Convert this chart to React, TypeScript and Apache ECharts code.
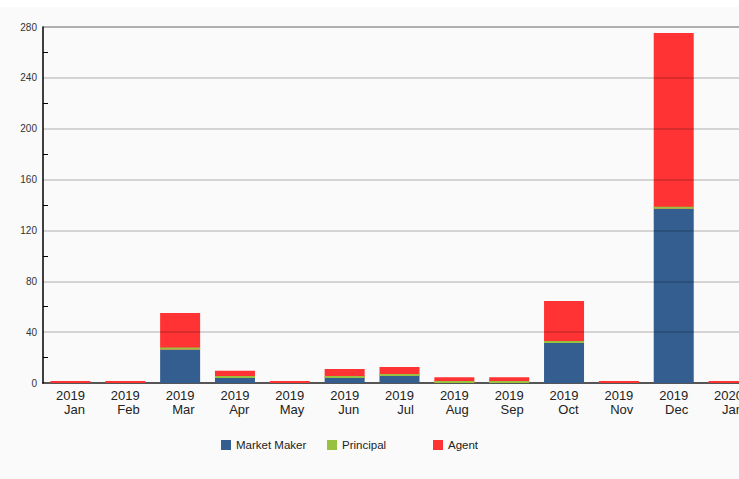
import React, { useEffect, useRef } from "react";
import * as echarts from "echarts";

const categories = [
  "2019 Jan", "2019 Feb", "2019 Mar", "2019 Apr", "2019 May", "2019 Jun", "2019 Jul",
  "2019 Aug", "2019 Sep", "2019 Oct", "2019 Nov", "2019 Dec", "2020 Jan",
];
const marketMaker = [0, 0, 26.3, 4, 0, 4, 5.5, 0, 0, 31.5, 0, 137, 0];
const principal = [null, null, 0, 0, null, 0, 0, 0, 0, 0, null, 0, null];
const agent = [0, 0, 28.7, 5.7, 0, 7, 7.1, 4.6, 4.6, 33, 0, 138.3, 0];
const yTicks = [0, 40, 80, 120, 160, 200, 240, 280];

const BLUE = "#335e8f";
const GREEN = "#99c140";
const RED = "#ff3333";

export default function App() {
  const ref = useRef<HTMLDivElement>(null);
  useEffect(() => {
    if (!ref.current) return;
    const chart = echarts.init(ref.current, null, { renderer: "svg" });
    const font = "Liberation Sans, Arial, sans-serif";
    const legendBase = (name: string, left: number) => ({
      data: [name],
      left,
      top: 432,
      padding: 0,
      itemWidth: 10,
      itemHeight: 10,
      icon: "rect",
      selectedMode: false,
      textStyle: { fontFamily: font, fontSize: 11.5, color: "#222" },
    });
    chart.setOption({
      animation: false,
      backgroundColor: "#fafafa",
      textStyle: { fontFamily: font },
      grid: { left: 43, right: 0, top: 20, bottom: 96, containLabel: false },
      legend: [
        legendBase("Market Maker", 221),
        legendBase("Principal", 327),
        legendBase("Agent", 433),
      ],
      xAxis: {
        type: "category",
        data: categories,
        axisLine: { lineStyle: { color: "#555", width: 2 } },
        axisTick: { show: false },
        axisLabel: {
          interval: 0,
          margin: 5,
          formatter: (v: string) => {
            const [y, m] = v.split(" ");
            return `{a|${y}}\n{a|${m}}`;
          },
          rich: {
            a: { align: "right", fontSize: 13, lineHeight: 14, color: "#222", fontFamily: font },
          },
        },
      },
      yAxis: {
        type: "value",
        min: yTicks[0],
        max: yTicks[yTicks.length - 1],
        interval: 40,
        z: 3,
        axisLine: { show: true, lineStyle: { color: "#000", width: 1.5 } },
        axisTick: { show: false, inside: true },
        minorTick: { show: true, splitNumber: 2, length: 5, lineStyle: { color: "#000", width: 1 } },
        axisLabel: { fontSize: 10, color: "#333", margin: 6, fontFamily: font },
        splitLine: {
          show: true,
          lineStyle: {
            color: [
              "rgba(0,0,0,0)", "rgba(0,0,0,0.2)", "rgba(0,0,0,0.2)", "rgba(0,0,0,0.2)",
              "rgba(0,0,0,0.2)", "rgba(0,0,0,0.2)", "rgba(0,0,0,0.2)", "rgba(0,0,0,0.4)",
            ],
            width: 1.5,
          },
        },
      },
      series: [
        {
          name: "Market Maker",
          type: "bar",
          stack: "total",
          barWidth: 40,
          data: marketMaker,
          itemStyle: { color: BLUE },
          z: 2,
        },
        {
          name: "Principal",
          type: "bar",
          stack: "total",
          barWidth: 40,
          barMinHeight: 2,
          data: principal,
          itemStyle: { color: GREEN },
          z: 2.5,
        },
        {
          name: "Agent",
          type: "bar",
          stack: "total",
          barWidth: 40,
          barMinHeight: 2,
          data: agent,
          itemStyle: { color: RED },
          z: 2,
        },
      ],
    });
    return () => chart.dispose();
  }, []);
  return (
    <div style={{ position: "fixed", left: 0, top: 0, width: 739, height: 479, background: "#fff", overflow: "hidden" }}>
      <div ref={ref} style={{ position: "absolute", left: 0, top: 7, width: 756, height: 472 }} />
    </div>
  );
}
